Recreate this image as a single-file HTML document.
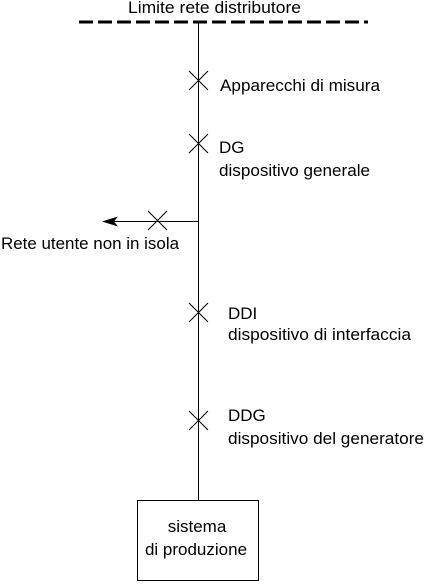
<!DOCTYPE html>
<html><head><style>body{margin:0;background:#fff}svg text{font-family:"Liberation Sans",sans-serif;font-size:17px;fill:#000}</style></head>
<body>
<svg width="424" height="582" xmlns="http://www.w3.org/2000/svg">
<text x="128" y="13" textLength="173" lengthAdjust="spacingAndGlyphs">Limite rete distributore</text>
<line x1="79" y1="22" x2="368" y2="22" stroke="#000" stroke-width="3" stroke-dasharray="14,5"/>
<line x1="198.5" y1="22" x2="198.5" y2="500" stroke="#000" stroke-width="1"/>
<g stroke="#000" stroke-width="1">
<path d="M189 71L208 90M208 71L189 90"/>
<path d="M189 134L208 153M208 134L189 153"/>
<path d="M189 303L208 322M208 303L189 322"/>
<path d="M189 411L208 430M208 411L189 430"/>
<path d="M148 211L167 230M167 211L148 230"/>
<line x1="108" y1="221.5" x2="198" y2="221.5"/>
</g>
<path d="M102 221.5L118 216.5L114 221.5L118 226.5Z" fill="#000"/>
<text x="220" y="91" textLength="160" lengthAdjust="spacingAndGlyphs">Apparecchi di misura</text>
<text x="219" y="153">DG</text>
<text x="219" y="176" textLength="151" lengthAdjust="spacingAndGlyphs">dispositivo generale</text>
<text x="1" y="249" textLength="178" lengthAdjust="spacingAndGlyphs">Rete utente non in isola</text>
<text x="228" y="319">DDI</text>
<text x="228" y="340" textLength="183" lengthAdjust="spacingAndGlyphs">dispositivo di interfaccia</text>
<text x="228" y="421">DDG</text>
<text x="228" y="444" textLength="196" lengthAdjust="spacingAndGlyphs">dispositivo del generatore</text>
<rect x="137.5" y="500.5" width="121" height="80" fill="none" stroke="#000"/>
<text x="197" y="532" text-anchor="middle">sistema</text>
<text x="196" y="555" text-anchor="middle">di produzione</text>
</svg>
</body></html>
